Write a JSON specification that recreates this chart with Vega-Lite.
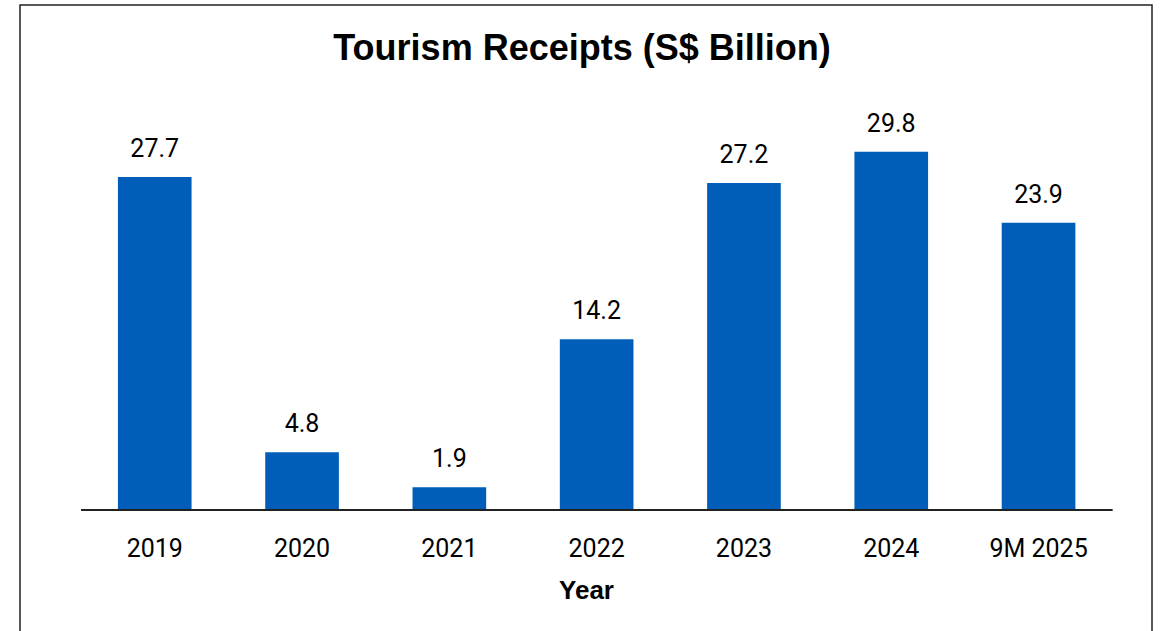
{
  "$schema": "https://vega.github.io/schema/vega-lite/v6.json",
  "autosize": {"type": "none"},
  "width": 1132,
  "height": 640,
  "padding": {"left": 20, "top": 5, "right": 8, "bottom": 0},
  "background": "white",
  "title": {
    "text": "Tourism Receipts (S$ Billion)",
    "anchor": "middle",
    "frame": "group",
    "font": "Liberation Sans",
    "fontSize": 36,
    "fontWeight": "bold",
    "color": "#000000",
    "baseline": "alphabetic",
    "offset": -57,
    "dy": 34,
    "dx": -4
  },
  "config": {
    "view": {"stroke": "#222222", "strokeWidth": 1.5}
  },
  "data": {
    "values": [
      {"year": "2019", "receipts": 27.7},
      {"year": "2020", "receipts": 4.8},
      {"year": "2021", "receipts": 1.9},
      {"year": "2022", "receipts": 14.2},
      {"year": "2023", "receipts": 27.2},
      {"year": "2024", "receipts": 29.8},
      {"year": "9M 2025", "receipts": 23.9}
    ]
  },
  "encoding": {
    "x": {
      "field": "year",
      "type": "nominal",
      "sort": null,
      "scale": {"paddingInner": 0.5, "paddingOuter": 0.5925, "align": 0.561},
      "axis": {
        "orient": "bottom",
        "offset": -135,
        "domain": false,
        "ticks": false,
        "labelAngle": 0,
        "labelFont": "Roboto",
        "labelFontSize": 25,
        "labelColor": "#000000",
        "labelPadding": 26,
        "title": "Year",
        "titleFont": "Liberation Sans",
        "titleFontSize": 26,
        "titleFontWeight": "bold",
        "titleColor": "#000000",
        "titlePadding": 16
      }
    }
  },
  "layer": [
    {
      "mark": {"type": "bar", "color": "#005EB8"},
      "encoding": {
        "y": {
          "field": "receipts",
          "type": "quantitative",
          "scale": {"domain": [-11.23, 42.01], "nice": false, "zero": false},
          "axis": null
        },
        "y2": {"datum": 0}
      }
    },
    {
      "mark": {"type": "text", "baseline": "alphabetic", "dy": -20, "font": "Roboto", "fontSize": 25, "color": "#000000"},
      "encoding": {
        "y": {"field": "receipts", "type": "quantitative"},
        "text": {"field": "receipts", "type": "quantitative", "format": ".1f"}
      }
    },
    {
      "mark": {"type": "rule", "color": "#222222", "strokeWidth": 1.5},
      "encoding": {
        "x": {"datum": "2019", "bandPosition": -0.5},
        "x2": {"datum": "9M 2025", "bandPosition": 1.5},
        "y": {"datum": 0}
      }
    }
  ]
}
